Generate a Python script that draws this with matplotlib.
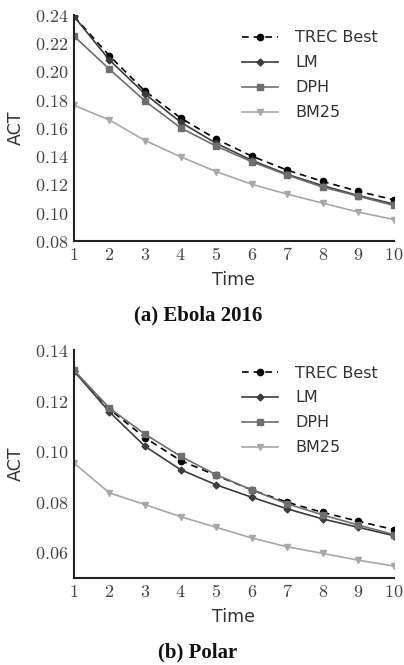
import matplotlib
matplotlib.use("Agg")
import matplotlib.pyplot as plt
from matplotlib.ticker import FuncFormatter

plt.rcParams['mathtext.fontset'] = 'cm'

times = [1, 2, 3, 4, 5, 6, 7, 8, 9, 10]

ebola_trec = [0.239, 0.211, 0.186, 0.167, 0.152, 0.140, 0.130, 0.122, 0.115, 0.109]
ebola_lm   = [0.239, 0.208, 0.184, 0.164, 0.149, 0.137, 0.127, 0.119, 0.112, 0.106]
ebola_dph  = [0.225, 0.2015, 0.179, 0.160, 0.147, 0.136, 0.1265, 0.118, 0.1115, 0.105]
ebola_bm25 = [0.176, 0.1655, 0.151, 0.1395, 0.129, 0.120, 0.113, 0.1066, 0.1003, 0.095]

polar_trec = [0.1317, 0.1166, 0.1053, 0.0963, 0.0904, 0.0847, 0.0798, 0.0758, 0.0723, 0.069]
polar_lm   = [0.1317, 0.1155, 0.1019, 0.0927, 0.0867, 0.0818, 0.0772, 0.0732, 0.0699, 0.0666]
polar_dph  = [0.132, 0.117, 0.1067, 0.098, 0.0907, 0.0847, 0.0792, 0.0748, 0.0708, 0.067]
polar_bm25 = [0.0953, 0.0835, 0.0789, 0.0741, 0.0699, 0.0657, 0.0622, 0.0596, 0.0569, 0.0546]

ebola_yticks = [0.08, 0.10, 0.12, 0.14, 0.16, 0.18, 0.20, 0.22, 0.24]
polar_yticks = [0.06, 0.08, 0.10, 0.12, 0.14]

labels = ["TREC Best", "LM", "DPH", "BM25"]
styles = [
    dict(color="black", ls=(0, (4, 3)), marker="o", ms=4.5),
    dict(color="#3c3c3c", ls="-", marker="D", ms=3.5),
    dict(color="#6e6e6e", ls="-", marker="s", ms=4.5),
    dict(color="#a8a8a8", ls="-", marker="v", ms=4),
]

fig = plt.figure(figsize=(4.04, 6.65), dpi=100)
ax1 = fig.add_axes([0.183, 0.638, 0.792, 0.3396])
ax2 = fig.add_axes([0.183, 0.1313, 0.792, 0.3424])

def style_ax(ax, series, ylim, yticks, caption, capy):
    for s, lab, st in zip(series, labels, styles):
        ax.plot(times, s, label=lab, lw=1.2, **st)
    ax.set_xlim(1, 10)
    ax.set_ylim(*ylim)
    ax.set_xticks(times)
    ax.set_yticks(yticks)
    ax.xaxis.set_major_formatter(FuncFormatter(lambda v, p: r"$%d$" % v))
    ax.yaxis.set_major_formatter(FuncFormatter(lambda v, p: r"$%.2f$" % v))
    ax.tick_params(length=0, labelsize=13, colors="#444444", pad=4)
    for sp in ["top", "right"]:
        ax.spines[sp].set_visible(False)
    for sp in ["left", "bottom"]:
        ax.spines[sp].set_color("#222222")
        ax.spines[sp].set_linewidth(1.5)
    ax.set_xlabel("Time", fontsize=12.5, color="#333333", family="DejaVu Sans", labelpad=5)
    ax.set_ylabel("ACT", fontsize=12.5, color="#333333", family="DejaVu Sans", labelpad=7)
    leg = ax.legend(loc="upper right", frameon=False, fontsize=11.5, handlelength=2.2,
                    labelspacing=0.62, handletextpad=1.1, bbox_to_anchor=(0.995, 0.995))
    for t in leg.get_texts():
        t.set_color("#333333")
    for sp in ax.spines.values():
        sp.set_zorder(5)
    fig.text(0.49, capy, caption, ha="center", va="center", fontsize=15,
             fontweight="bold", family="Liberation Serif", color="#111111")

style_ax(ax1, [ebola_trec, ebola_lm, ebola_dph, ebola_bm25], (0.08, 0.24), ebola_yticks,
         "(a) Ebola 2016", 1 - 315 / 665)
style_ax(ax2, [polar_trec, polar_lm, polar_dph, polar_bm25], (0.05, 0.14), polar_yticks,
         "(b) Polar", 1 - 652 / 665)

fig.savefig("out.png", dpi=100)
